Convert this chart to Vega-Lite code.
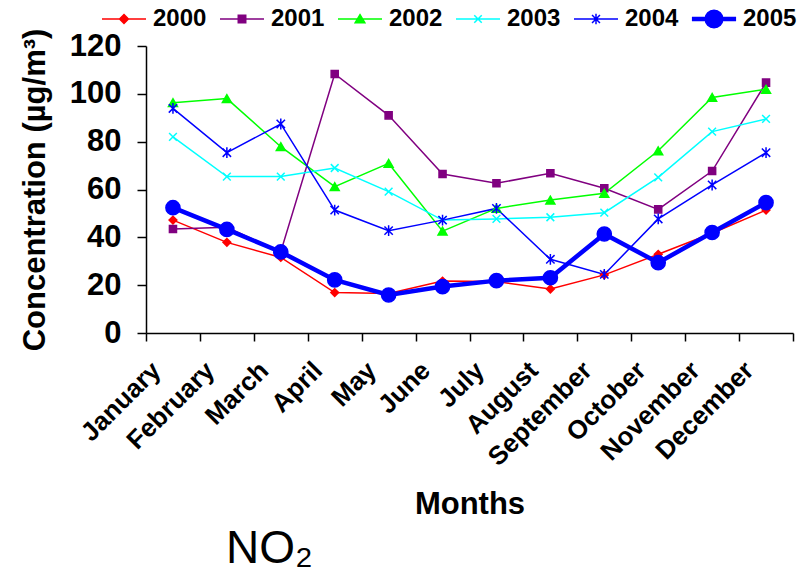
{
  "$schema": "https://vega.github.io/schema/vega-lite/v6.json",
  "width": 647,
  "height": 287,
  "autosize": {"type": "none"},
  "padding": {"left": 146, "top": 46, "right": 14, "bottom": 252},
  "background": "white",
  "config": {
    "view": {"stroke": null},
    "font": "Liberation Sans"
  },
  "title": {
    "text": "NO₂",
    "orient": "bottom",
    "anchor": "start",
    "dx": 207,
    "offset": 8,
    "font": "Liberation Sans",
    "fontSize": 46,
    "fontWeight": "normal",
    "color": "black"
  },
  "data": {
    "values": [
      {"month": "January", "year": "2000", "value": 47.2},
      {"month": "February", "year": "2000", "value": 37.9},
      {"month": "March", "year": "2000", "value": 31.6},
      {"month": "April", "year": "2000", "value": 16.9},
      {"month": "May", "year": "2000", "value": 16.5},
      {"month": "June", "year": "2000", "value": 21.7},
      {"month": "July", "year": "2000", "value": 21.5},
      {"month": "August", "year": "2000", "value": 18.4},
      {"month": "September", "year": "2000", "value": 24.3},
      {"month": "October", "year": "2000", "value": 32.9},
      {"month": "November", "year": "2000", "value": 41.7},
      {"month": "December", "year": "2000", "value": 51.4},
      {"month": "January", "year": "2001", "value": 43.5},
      {"month": "February", "year": "2001", "value": 44.2},
      {"month": "March", "year": "2001", "value": 34.0},
      {"month": "April", "year": "2001", "value": 108.3},
      {"month": "May", "year": "2001", "value": 91.0},
      {"month": "June", "year": "2001", "value": 66.5},
      {"month": "July", "year": "2001", "value": 62.6},
      {"month": "August", "year": "2001", "value": 66.8},
      {"month": "September", "year": "2001", "value": 60.5},
      {"month": "October", "year": "2001", "value": 51.7},
      {"month": "November", "year": "2001", "value": 67.7},
      {"month": "December", "year": "2001", "value": 104.7},
      {"month": "January", "year": "2002", "value": 96.3},
      {"month": "February", "year": "2002", "value": 98.0},
      {"month": "March", "year": "2002", "value": 77.9},
      {"month": "April", "year": "2002", "value": 61.2},
      {"month": "May", "year": "2002", "value": 70.9},
      {"month": "June", "year": "2002", "value": 42.6},
      {"month": "July", "year": "2002", "value": 52.1},
      {"month": "August", "year": "2002", "value": 55.6},
      {"month": "September", "year": "2002", "value": 58.4},
      {"month": "October", "year": "2002", "value": 76.2},
      {"month": "November", "year": "2002", "value": 98.5},
      {"month": "December", "year": "2002", "value": 101.9},
      {"month": "January", "year": "2003", "value": 82.0},
      {"month": "February", "year": "2003", "value": 65.4},
      {"month": "March", "year": "2003", "value": 65.4},
      {"month": "April", "year": "2003", "value": 69.0},
      {"month": "May", "year": "2003", "value": 59.1},
      {"month": "June", "year": "2003", "value": 47.2},
      {"month": "July", "year": "2003", "value": 47.7},
      {"month": "August", "year": "2003", "value": 48.4},
      {"month": "September", "year": "2003", "value": 50.3},
      {"month": "October", "year": "2003", "value": 65.1},
      {"month": "November", "year": "2003", "value": 84.2},
      {"month": "December", "year": "2003", "value": 89.5},
      {"month": "January", "year": "2004", "value": 93.9},
      {"month": "February", "year": "2004", "value": 75.4},
      {"month": "March", "year": "2004", "value": 87.4},
      {"month": "April", "year": "2004", "value": 51.4},
      {"month": "May", "year": "2004", "value": 42.8},
      {"month": "June", "year": "2004", "value": 47.2},
      {"month": "July", "year": "2004", "value": 52.1},
      {"month": "August", "year": "2004", "value": 30.8},
      {"month": "September", "year": "2004", "value": 24.5},
      {"month": "October", "year": "2004", "value": 47.7},
      {"month": "November", "year": "2004", "value": 61.9},
      {"month": "December", "year": "2004", "value": 75.4},
      {"month": "January", "year": "2005", "value": 52.4},
      {"month": "February", "year": "2005", "value": 43.3},
      {"month": "March", "year": "2005", "value": 33.9},
      {"month": "April", "year": "2005", "value": 22.2},
      {"month": "May", "year": "2005", "value": 15.9},
      {"month": "June", "year": "2005", "value": 19.4},
      {"month": "July", "year": "2005", "value": 21.9},
      {"month": "August", "year": "2005", "value": 23.1},
      {"month": "September", "year": "2005", "value": 41.4},
      {"month": "October", "year": "2005", "value": 29.4},
      {"month": "November", "year": "2005", "value": 42.0},
      {"month": "December", "year": "2005", "value": 54.5}
    ]
  },
  "encoding": {
    "x": {
      "field": "month",
      "type": "ordinal",
      "sort": ["January", "February", "March", "April", "May", "June", "July", "August", "September", "October", "November", "December"],
      "bandPosition": 0.5,
      "scale": {"type": "band", "paddingInner": 0, "paddingOuter": 0},
      "axis": {
        "title": "Months",
        "titleFont": "Liberation Sans",
        "titleFontSize": 31,
        "titleFontWeight": "bold",
        "titleColor": "black",
        "titleY": 180,
        "titleBaseline": "alphabetic",
        "labelAngle": -45,
        "labelAlign": "right",
        "labelBaseline": "middle",
        "labelFont": "Liberation Sans",
        "labelFontSize": 26,
        "labelFontWeight": "bold",
        "labelColor": "black",
        "labelPadding": 25,
        "labelOffset": -17,
        "tickBand": "extent",
        "tickSize": 8,
        "tickColor": "black",
        "tickWidth": 1.5,
        "domainColor": "black",
        "domainWidth": 1.5,
        "grid": false
      }
    },
    "y": {
      "field": "value",
      "type": "quantitative",
      "scale": {"domain": [0, 120], "nice": false},
      "axis": {
        "title": "Concentration (µg/m³)",
        "titleFont": "Liberation Sans",
        "titleFontSize": 31,
        "titleFontWeight": "bold",
        "titleColor": "black",
        "titleX": -102,
        "titleY": 143.5,
        "titleBaseline": "alphabetic",
        "titleAngle": 270,
        "values": [0, 20, 40, 60, 80, 100, 120],
        "labelFont": "Liberation Sans",
        "labelFontSize": 31,
        "labelFontWeight": "bold",
        "labelColor": "black",
        "labelPadding": 16,
        "tickSize": 9,
        "tickColor": "black",
        "tickWidth": 1.5,
        "domainColor": "black",
        "domainWidth": 1.5,
        "grid": false
      }
    }
  },
  "layer": [
    {
      "mark": {"type": "line"},
      "encoding": {
        "color": {
          "field": "year",
          "type": "nominal",
          "scale": {
            "domain": ["2000", "2001", "2002", "2003", "2004", "2005"],
            "range": ["#ff0000", "#800080", "#00ff00", "#00ffff", "#0000ff", "#0000ff"]
          },
          "legend": {
            "orient": "none",
            "legendX": -45,
            "legendY": -50,
            "direction": "horizontal",
            "title": null,
            "labelFont": "Liberation Sans",
            "labelFontSize": 24,
            "labelFontWeight": "bold",
            "labelColor": "black",
            "labelOffset": 6,
            "columnPadding": 10,
            "symbolSize": 1936,
            "symbolStrokeWidth": 1.5,
            "encode": {
              "symbols": {
                "update": {
                  "shape": {"signal": "datum.label == '2000' ? 'M-1,0L1,0M0,-0.2L0.2,0L0,0.2L-0.2,0Z' : datum.label == '2001' ? 'M-1,0L1,0M-0.17,-0.17L0.17,-0.17L0.17,0.17L-0.17,0.17Z' : datum.label == '2002' ? 'M-1,0L1,0M0,-0.2L0.22,0.17L-0.22,0.17Z' : datum.label == '2003' ? 'M-1,0L1,0M-0.17,-0.17L0.17,0.17M-0.17,0.17L0.17,-0.17' : datum.label == '2004' ? 'M-1,0L1,0M-0.18,-0.18L0.18,0.18M-0.18,0.18L0.18,-0.18M0,-0.24L0,0.24' : 'M-0.97,-0.07L0.97,-0.07L0.97,0.07L-0.97,0.07ZM0.4,0L0.37,0.153L0.283,0.283L0.153,0.37L0,0.4L-0.153,0.37L-0.283,0.283L-0.37,0.153L-0.4,0L-0.37,-0.153L-0.283,-0.283L-0.153,-0.37L0,-0.4L0.153,-0.37L0.283,-0.283L0.37,-0.153Z'"},
                  "fill": {"signal": "scale('color', datum.value)"},
                  "stroke": {"signal": "scale('color', datum.value)"},
                  "size": {"value": 1936},
                  "opacity": {"value": 1}
                }
              }
            }
          }
        },
        "strokeWidth": {
          "condition": {"test": "datum.year == '2005'", "value": 4.5},
          "value": 1.5
        }
      }
    },
    {
      "mark": {"type": "point", "filled": false, "opacity": 1, "strokeWidth": 1.5},
      "encoding": {
        "shape": {
          "condition": [
            {"test": "datum.year == '2000'", "value": "diamond"},
            {"test": "datum.year == '2001'", "value": "square"},
            {"test": "datum.year == '2002'", "value": "triangle-up"},
            {"test": "datum.year == '2003'", "value": "M-1,-1L1,1M-1,1L1,-1"},
            {"test": "datum.year == '2004'", "value": "M-1,-1L1,1M-1,1L1,-1M0,-1.3L0,1.3"}
          ],
          "value": "circle"
        },
        "size": {
          "condition": [
            {"test": "datum.year == '2000'", "value": 60},
            {"test": "datum.year == '2001'", "value": 50},
            {"test": "datum.year == '2002'", "value": 80},
            {"test": "datum.year == '2003'", "value": 60},
            {"test": "datum.year == '2004'", "value": 70}
          ],
          "value": 200
        },
        "stroke": {
          "field": "year",
          "type": "nominal",
          "scale": {
            "domain": ["2000", "2001", "2002", "2003", "2004", "2005"],
            "range": ["#ff0000", "#800080", "#00ff00", "#00ffff", "#0000ff", "#0000ff"]
          },
          "legend": null
        },
        "fill": {
          "field": "year",
          "type": "nominal",
          "scale": {
            "domain": ["2000", "2001", "2002", "2003", "2004", "2005"],
            "range": ["#ff0000", "#800080", "#00ff00", "#00ffff", "#0000ff", "#0000ff"]
          },
          "legend": null
        }
      }
    }
  ]
}
